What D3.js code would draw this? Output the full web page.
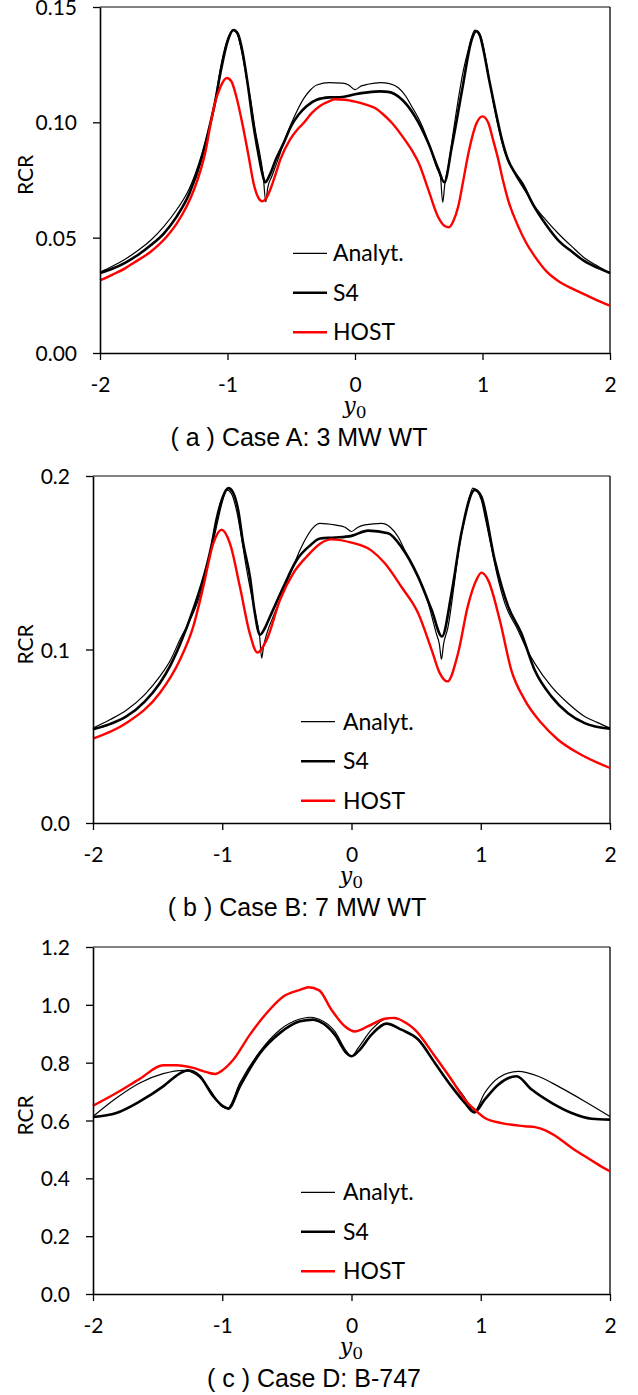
<!DOCTYPE html>
<html>
<head>
<meta charset="utf-8">
<script src="https://cdn.jsdelivr.net/npm/d3@7"></script>
<style>
  html, body { margin: 0; padding: 0; background: #fff; }
  svg { display: block; }
</style>
</head>
<body>
<svg id="chart" width="638" height="1395"></svg>
<script>
// ---- x ticks shared by all three panels ----
const xTicks = [-2, -1, 0, 1, 2];
const seriesNames = ["Analyt.", "S4", "HOST"];

// ---- Case A: 3 MW WT  ([y0, RCR]) ----
const caseA_ticks = [0, 0.05, 0.10, 0.15];
const caseA_analyt = [
  [-2.0,0.0350],[-1.9,0.0377],[-1.8,0.0408],[-1.7,0.0445],[-1.6,0.0490],[-1.5,0.0548],[-1.4,0.0620],
  [-1.3,0.0712],[-1.2,0.0865],[-1.15,0.0965],[-1.1,0.1085],[-1.05,0.1250],[-1.0,0.1360],[-0.96,0.1400],
  [-0.93,0.1390],[-0.89,0.1310],[-0.85,0.1190],[-0.822,0.1110],[-0.78,0.0960],[-0.743,0.0853],
  [-0.72,0.0770],[-0.70,0.0655],[-0.685,0.0715],[-0.652,0.0766],[-0.60,0.0845],[-0.56,0.0910],
  [-0.50,0.0995],[-0.45,0.1055],[-0.40,0.1105],[-0.35,0.1140],[-0.30,0.1162],[-0.20,0.1172],
  [-0.10,0.1170],[-0.05,0.1162],[0.0,0.1142],[0.05,0.1158],[0.10,0.1165],[0.20,0.1172],[0.27,0.1168],
  [0.34,0.1150],[0.40,0.1112],[0.444,0.1070],[0.50,0.1015],[0.549,0.0954],[0.60,0.0875],[0.64,0.0805],
  [0.67,0.0765],[0.688,0.0653],[0.705,0.0735],[0.732,0.0810],[0.77,0.0955],[0.81,0.1100],[0.85,0.1225],
  [0.889,0.1315],[0.94,0.1400],[0.97,0.1392],[0.993,0.1360],[1.03,0.1260],[1.07,0.1130],[1.12,0.0990],
  [1.176,0.0867],[1.23,0.0800],[1.28,0.0750],[1.35,0.0690],[1.41,0.0636],[1.5,0.0575],[1.6,0.0515],
  [1.7,0.0462],[1.8,0.0412],[1.9,0.0378],[2.0,0.0347]
];
const caseA_s4 = [
  [-2.0,0.0347],[-1.9,0.0366],[-1.8,0.0392],[-1.7,0.0426],[-1.6,0.0468],[-1.5,0.0518],[-1.4,0.0590],
  [-1.3,0.0690],[-1.2,0.0850],[-1.15,0.0960],[-1.1,0.1080],[-1.05,0.1230],[-1.0,0.1350],[-0.953,0.1400],
  [-0.92,0.1385],[-0.88,0.1300],[-0.84,0.1160],[-0.80,0.1000],[-0.76,0.0870],[-0.73,0.0785],
  [-0.704,0.0740],[-0.67,0.0770],[-0.62,0.0840],[-0.56,0.0910],[-0.50,0.0985],[-0.44,0.1035],
  [-0.38,0.1070],[-0.30,0.1098],[-0.20,0.1108],[-0.10,0.1110],[0.0,0.1122],[0.10,0.1130],[0.20,0.1134],
  [0.26,0.1132],[0.37,0.1098],[0.47,0.1026],[0.575,0.0910],[0.655,0.0795],[0.70,0.0740],[0.76,0.0896],
  [0.84,0.1140],[0.915,0.1358],[0.95,0.1395],[0.98,0.1375],[1.007,0.1315],[1.05,0.1190],[1.10,0.1055],
  [1.15,0.0930],[1.20,0.0838],[1.25,0.0785],[1.31,0.0737],[1.40,0.0640],[1.5,0.0555],[1.6,0.0485],
  [1.7,0.0440],[1.8,0.0398],[1.9,0.0370],[2.0,0.0347]
];
const caseA_host = [
  [-2.0,0.0315],[-1.9,0.0340],[-1.8,0.0368],[-1.738,0.0390],[-1.6,0.0440],[-1.476,0.0505],[-1.4,0.0560],
  [-1.32,0.0636],[-1.26,0.0712],[-1.215,0.0785],[-1.17,0.0880],[-1.136,0.0983],[-1.10,0.1080],
  [-1.058,0.1150],[-1.005,0.1192],[-0.97,0.1178],[-0.93,0.1110],[-0.874,0.0968],[-0.83,0.0840],
  [-0.796,0.0737],[-0.76,0.0675],[-0.73,0.0658],[-0.70,0.0668],[-0.665,0.0708],[-0.62,0.0780],
  [-0.586,0.0838],[-0.51,0.0925],[-0.45,0.0970],[-0.403,0.0997],[-0.34,0.1040],[-0.272,0.1072],
  [-0.20,0.1092],[-0.157,0.1100],[-0.08,0.1098],[0.0,0.1090],[0.08,0.1078],[0.157,0.1062],[0.22,0.1035],
  [0.29,0.0997],[0.39,0.0925],[0.45,0.0875],[0.50,0.0824],[0.575,0.0708],[0.65,0.0592],[0.70,0.0552],
  [0.737,0.0545],[0.77,0.0570],[0.81,0.0636],[0.85,0.0750],[0.89,0.0867],[0.954,0.0997],[1.0,0.1026],
  [1.046,0.0997],[1.08,0.0930],[1.124,0.0838],[1.16,0.0750],[1.20,0.0665],[1.28,0.0549],[1.34,0.0480],
  [1.41,0.0419],[1.5,0.0355],[1.6,0.0310],[1.7,0.0280],[1.8,0.0254],[1.9,0.0228],[2.0,0.0205]
];

// ---- Case B: 7 MW WT ----
const caseB_ticks = [0, 0.1, 0.2];
const caseB_analyt = [
  [-2.0,0.0547],[-1.87,0.0595],[-1.742,0.0650],[-1.6,0.0740],[-1.483,0.0845],[-1.4,0.0940],[-1.328,0.1056],
  [-1.225,0.1210],[-1.17,0.1320],[-1.121,0.1460],[-1.08,0.1590],[-1.044,0.1710],[-1.0,0.1850],
  [-0.966,0.1920],[-0.93,0.1900],[-0.889,0.1800],[-0.85,0.1640],[-0.811,0.1460],[-0.77,0.1300],
  [-0.734,0.1170],[-0.71,0.1070],[-0.695,0.0950],[-0.68,0.1020],[-0.656,0.1090],[-0.60,0.1200],
  [-0.553,0.1286],[-0.50,0.1390],[-0.45,0.1480],[-0.40,0.1570],[-0.346,0.1650],[-0.30,0.1700],
  [-0.243,0.1727],[-0.129,0.1718],[-0.05,0.1705],[0.0,0.1680],[0.05,0.1705],[0.103,0.1718],
  [0.232,0.1727],[0.30,0.1705],[0.36,0.1650],[0.42,0.1560],[0.49,0.1460],[0.593,0.1267],[0.657,0.1090],
  [0.68,0.1030],[0.696,0.0944],[0.712,0.1030],[0.747,0.1130],[0.79,0.1350],[0.825,0.1550],[0.889,0.1800],
  [0.94,0.1930],[0.97,0.1915],[1.005,0.1860],[1.04,0.1740],[1.082,0.1590],[1.13,0.1420],[1.186,0.1267],
  [1.289,0.1110],[1.35,0.1010],[1.418,0.0920],[1.546,0.0787],[1.675,0.0690],[1.804,0.0614],[1.9,0.0580],
  [2.0,0.0547]
];
const caseB_s4 = [
  [-2.0,0.0540],[-1.87,0.0570],[-1.742,0.0614],[-1.6,0.0700],[-1.483,0.0806],[-1.4,0.0910],[-1.328,0.1027],
  [-1.225,0.1230],[-1.121,0.1480],[-1.08,0.1610],[-1.044,0.1750],[-1.0,0.1870],[-0.953,0.1930],
  [-0.92,0.1910],[-0.876,0.1800],[-0.84,0.1620],[-0.786,0.1420],[-0.75,0.1220],[-0.708,0.1085],
  [-0.68,0.1110],[-0.63,0.1190],[-0.527,0.1360],[-0.424,0.1516],[-0.32,0.1600],[-0.243,0.1640],
  [-0.129,0.1645],[0.0,0.1655],[0.129,0.1685],[0.283,0.1670],[0.387,0.1590],[0.515,0.1420],
  [0.619,0.1230],[0.70,0.1075],[0.773,0.1320],[0.85,0.1670],[0.954,0.1920],[1.005,0.1880],
  [1.108,0.1516],[1.211,0.1250],[1.314,0.1094],[1.418,0.0880],[1.546,0.0730],[1.675,0.0633],
  [1.804,0.0576],[2.0,0.0543]
];
const caseB_host = [
  [-2.0,0.0486],[-1.742,0.0576],[-1.483,0.0749],[-1.328,0.0940],[-1.225,0.1130],[-1.147,0.1360],
  [-1.07,0.1610],[-1.005,0.1690],[-0.94,0.1610],[-0.863,0.1360],[-0.786,0.1090],[-0.729,0.0983],
  [-0.656,0.1056],[-0.553,0.1286],[-0.45,0.1440],[-0.346,0.1536],[-0.243,0.1610],[-0.155,0.1635],
  [0.0,0.1616],[0.155,0.1570],[0.258,0.1497],[0.387,0.1360],[0.515,0.1210],[0.62,0.0998],[0.683,0.0864],
  [0.742,0.0816],[0.825,0.0980],[0.90,0.1250],[0.966,0.1400],[1.005,0.1443],[1.057,0.1400],
  [1.147,0.1170],[1.237,0.0880],[1.34,0.0710],[1.469,0.0576],[1.598,0.0480],[1.753,0.0403],[2.0,0.0317]
];

// ---- Case D: B-747 ----
const caseD_ticks = [0, 0.2, 0.4, 0.6, 0.8, 1.0, 1.2];
const caseD_analyt = [
  [-2.0,0.614],[-1.819,0.678],[-1.638,0.730],[-1.457,0.762],[-1.302,0.7735],[-1.199,0.758],[-1.096,0.707],
  [-1.005,0.649],[-0.961,0.641],[-0.863,0.730],[-0.708,0.839],[-0.553,0.914],[-0.398,0.951],[-0.32,0.957],
  [-0.25,0.950],[-0.129,0.908],[-0.039,0.839],[0.0,0.822],[0.052,0.851],[0.155,0.914],[0.284,0.954],
  [0.36,0.951],[0.49,0.914],[0.645,0.822],[0.774,0.741],[0.877,0.678],[0.95,0.632],[1.03,0.695],
  [1.135,0.747],[1.29,0.770],[1.445,0.753],[1.6,0.718],[1.806,0.666],[2.0,0.614]
];
const caseD_s4 = [
  [-2.0,0.612],[-1.819,0.626],[-1.638,0.666],[-1.457,0.718],[-1.33,0.762],[-1.27,0.7735],[-1.173,0.753],
  [-1.07,0.684],[-0.992,0.649],[-0.953,0.641],[-0.863,0.718],[-0.708,0.833],[-0.553,0.903],[-0.398,0.943],
  [-0.295,0.949],[-0.25,0.943],[-0.129,0.897],[-0.039,0.833],[0.0,0.822],[0.052,0.839],[0.155,0.897],
  [0.271,0.935],[0.387,0.914],[0.516,0.880],[0.645,0.799],[0.774,0.718],[0.877,0.661],[0.95,0.628],
  [1.03,0.672],[1.135,0.724],[1.277,0.753],[1.394,0.707],[1.548,0.661],[1.703,0.626],[1.858,0.606],
  [2.0,0.603]
];
const caseD_host = [
  [-2.0,0.651],[-1.819,0.695],[-1.638,0.744],[-1.457,0.791],[-1.354,0.791],[-1.225,0.782],[-1.121,0.767],
  [-1.057,0.761],[-0.992,0.776],[-0.915,0.810],[-0.786,0.897],[-0.656,0.972],[-0.527,1.029],[-0.398,1.052],
  [-0.333,1.061],[-0.25,1.050],[-0.155,0.983],[-0.052,0.926],[0.026,0.908],[0.129,0.926],[0.258,0.952],
  [0.33,0.955],[0.42,0.938],[0.49,0.914],[0.645,0.822],[0.774,0.741],[0.877,0.672],[0.955,0.637],
  [1.032,0.609],[1.161,0.591],[1.342,0.580],[1.42,0.577],[1.5,0.566],[1.57,0.549],[1.7,0.507],
  [1.806,0.476],[1.9,0.450],[2.0,0.424]
];

// ---- panel layout ----
const panels = [
  { caption: "( a ) Case A: 3 MW WT", capX: 299, left: 100, right: 610, top: 7, bottom: 353,
    yMax: 0.15, yTicks: caseA_ticks, fmt: ".2f", series: [caseA_analyt, caseA_s4, caseA_host],
    legX1: 293, legX2: 327, legText: 333, legY: 253.3 },
  { caption: "( b ) Case B: 7 MW WT", capX: 297, left: 93, right: 610, top: 476, bottom: 823,
    yMax: 0.2, yTicks: caseB_ticks, fmt: ".1f", series: [caseB_analyt, caseB_s4, caseB_host],
    legX1: 301, legX2: 335, legText: 343, legY: 721.7 },
  { caption: "( c ) Case D: B-747", capX: 314, left: 93, right: 610, top: 947, bottom: 1294,
    yMax: 1.2, yTicks: caseD_ticks, fmt: ".1f", series: [caseD_analyt, caseD_s4, caseD_host],
    legX1: 301, legX2: 335, legText: 343, legY: 1192.3 }
];

const styles = [
  { stroke: "#000", width: 1.2 },
  { stroke: "#000", width: 2.6 },
  { stroke: "#ff0000", width: 2.4 }
];

const labelFont = "Lato, 'Open Sans', sans-serif";
const svg = d3.select("#chart");

panels.forEach(p => {
  const x = d3.scaleLinear().domain([-2, 2]).range([p.left, p.right]);
  const y = d3.scaleLinear().domain([0, p.yMax]).range([p.bottom, p.top]);
  const g = svg.append("g");

  // plot-area frame (top and right edges)
  g.append("line").attr("x1", p.left).attr("x2", p.right).attr("y1", p.top).attr("y2", p.top)
    .attr("stroke", "#595959").attr("stroke-width", 1.6);
  g.append("line").attr("x1", p.right).attr("x2", p.right).attr("y1", p.top).attr("y2", p.bottom)
    .attr("stroke", "#000").attr("stroke-width", 1.3);

  // curves
  const line = d3.line().x(d => x(d[0])).y(d => y(d[1])).curve(d3.curveMonotoneX);
  p.series.forEach((s, i) => {
    g.append("path").datum(s).attr("d", line)
      .attr("fill", "none").attr("stroke", styles[i].stroke)
      .attr("stroke-width", styles[i].width).attr("stroke-linejoin", "round");
  });

  // x axis
  const xa = g.append("g").attr("transform", `translate(0,${p.bottom})`)
    .call(d3.axisBottom(x).tickValues(xTicks).tickFormat(d => String(d)).tickSize(7).tickSizeOuter(0));
  xa.select(".domain").attr("stroke", "#000").attr("stroke-width", 1.6);
  xa.selectAll(".tick line").attr("stroke", "#000").attr("stroke-width", 1.3);
  xa.selectAll(".tick text").attr("y", 39).attr("dy", null)
    .attr("font-family", labelFont).attr("font-size", 21).attr("fill", "#000");

  // y axis
  const ya = g.append("g").attr("transform", `translate(${p.left},0)`)
    .call(d3.axisLeft(y).tickValues(p.yTicks).tickFormat(d3.format(p.fmt)).tickSize(7).tickSizeOuter(0));
  ya.select(".domain").attr("stroke", "#000").attr("stroke-width", 1.6);
  ya.selectAll(".tick line").attr("stroke", "#000").attr("stroke-width", 1.3);
  ya.selectAll(".tick text").attr("x", -23).attr("dy", "0.36em")
    .attr("font-family", labelFont).attr("font-size", 21).attr("fill", "#000");

  // axis titles
  g.append("text")
    .attr("transform", `translate(33,${(p.top + p.bottom) / 2 - 5}) rotate(-90)`)
    .attr("text-anchor", "middle").attr("font-family", labelFont).attr("font-size", 21)
    .text("RCR");

  const t = g.append("text").attr("x", x(0)).attr("y", p.bottom + 60)
    .attr("text-anchor", "middle").attr("font-family", "'DejaVu Serif', serif");
  t.append("tspan").attr("font-style", "italic").attr("font-size", 22).text("y");
  t.append("tspan").attr("font-size", 17).attr("dy", 5).text("0");

  // caption
  g.append("text").attr("x", p.capX).attr("y", p.bottom + 93)
    .attr("text-anchor", "middle").attr("font-family", "'Liberation Sans', Arial, sans-serif")
    .attr("font-size", 25).text(p.caption);

  // legend
  seriesNames.forEach((name, i) => {
    const ly = p.legY + i * 39.5;
    g.append("line").attr("x1", p.legX1).attr("x2", p.legX2).attr("y1", ly).attr("y2", ly)
      .attr("stroke", styles[i].stroke).attr("stroke-width", styles[i].width);
    g.append("text").attr("x", p.legText).attr("y", ly + 8)
      .attr("font-family", labelFont).attr("font-size", 23).text(name);
  });
});
</script>
</body>
</html>
